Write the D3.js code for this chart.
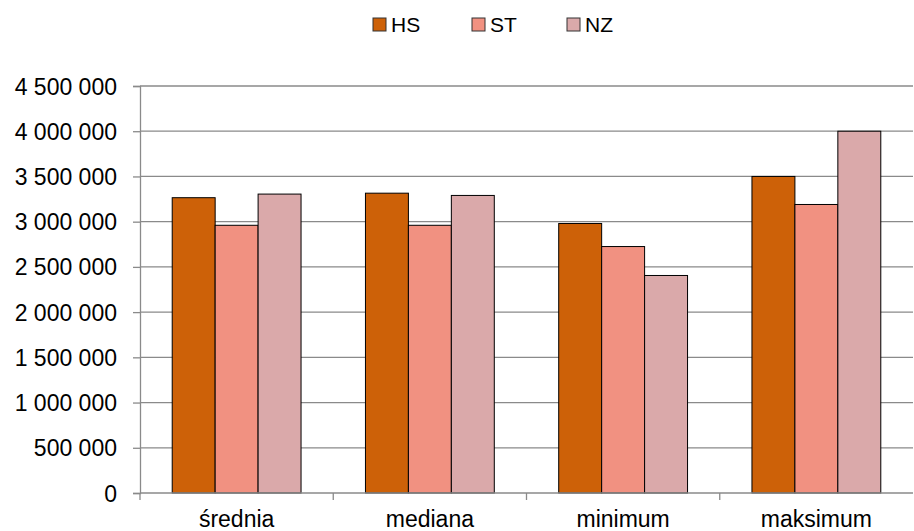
<!DOCTYPE html>
<html>
<meta charset="utf-8">
<script src="https://d3js.org/d3.v7.js"></script>
<style>
    body { margin: 0; background: #fff; overflow: hidden; }
    svg { display: block; }
    text { font-family: "Liberation Sans", Arial, sans-serif; fill: #000; }
</style>
<body>
    <div id="chart"></div>
    <script>

        // data
        var categories = ["średnia", "mediana", "minimum", "maksimum"];
        var seriesNames = ["HS", "ST", "NZ"];
        var hsValues = [3265000, 3315000, 2980000, 3500000];
        var stValues = [2960000, 2960000, 2725000, 3190000];
        var nzValues = [3305000, 3290000, 2405000, 4000000];
        var yTicks = [0, 500000, 1000000, 1500000, 2000000, 2500000, 3000000, 3500000, 4000000, 4500000];
        var colors = ["#cd6108", "#f19181", "#daa9aa"];

        var allValues = [hsValues, stValues, nzValues];

        var totalWidth = 914, totalHeight = 531;
        var margin = { top: 86, right: 1, bottom: 38, left: 140 },
            width = totalWidth - margin.left - margin.right,
            height = totalHeight - margin.top - margin.bottom;

        var svg = d3.select("#chart")
            .append("svg")
            .attr("width", totalWidth)
            .attr("height", totalHeight);

        var g = svg.append("g")
            .attr("transform", "translate(" + margin.left + "," + margin.top + ")");

        // scales
        var x0 = d3.scaleBand()
            .domain(categories)
            .range([0, width])
            .padding(0);

        var x1 = d3.scaleBand()
            .domain(seriesNames)
            .range([0, x0.bandwidth()])
            .paddingInner(0)
            .paddingOuter(0.75);

        var y = d3.scaleLinear()
            .domain([0, 4500000])
            .range([height, 0]);

        var locale = d3.formatLocale({ decimal: ",", thousands: " ", grouping: [3], currency: ["", ""] });
        var fmt = locale.format(",");

        // gridlines
        g.append("g")
            .selectAll("line")
            .data(yTicks.slice(1))
            .enter()
            .append("line")
            .attr("x1", 0)
            .attr("x2", width)
            .attr("y1", function (d) { return y(d) })
            .attr("y2", function (d) { return y(d) })
            .attr("stroke", "#8a8a8a")
            .attr("stroke-width", 1.3);

        // y axis
        var yAxis = g.append("g")
            .call(d3.axisLeft(y).tickValues(yTicks).tickFormat(fmt).tickSize(7).tickPadding(15));
        yAxis.select(".domain").attr("stroke", "#8a8a8a").attr("stroke-width", 1.3);
        yAxis.selectAll(".tick line").attr("stroke", "#8a8a8a").attr("stroke-width", 1.3);
        yAxis.selectAll("text")
            .style("font-family", "'Liberation Sans', Arial, sans-serif")
            .style("font-size", "23px")
            .attr("x", -23)
            .attr("dy", "0.35em");

        // bars
        var rows = categories.map(function (c, i) {
            return seriesNames.map(function (s, j) {
                return { category: c, series: s, value: allValues[j][i], color: colors[j] };
            });
        });

        g.append("g")
            .selectAll("g")
            .data(rows)
            .enter()
            .append("g")
            .attr("transform", function (d) { return "translate(" + x0(d[0].category) + ",0)" })
            .selectAll("rect")
            .data(function (d) { return d })
            .enter()
            .append("rect")
            .attr("x", function (d) { return x1(d.series) })
            .attr("y", function (d) { return y(d.value) })
            .attr("width", x1.bandwidth())
            .attr("height", function (d) { return height - y(d.value) })
            .attr("fill", function (d) { return d.color })
            .attr("stroke", "#000")
            .attr("stroke-width", 1);

        // x axis
        var xAxis = g.append("g")
            .attr("transform", "translate(0," + height + ")");
        xAxis.append("line")
            .attr("x1", 0).attr("x2", width)
            .attr("stroke", "#8a8a8a").attr("stroke-width", 1.3);
        xAxis.selectAll(".sep")
            .data(categories)
            .enter()
            .append("line")
            .attr("class", "sep")
            .attr("x1", function (d) { return x0(d) })
            .attr("x2", function (d) { return x0(d) })
            .attr("y1", 0)
            .attr("y2", 7)
            .attr("stroke", "#8a8a8a").attr("stroke-width", 1.3);
        xAxis.selectAll(".lbl")
            .data(categories)
            .enter()
            .append("text")
            .attr("class", "lbl")
            .attr("x", function (d) { return x0(d) + x0.bandwidth() / 2 })
            .attr("y", 34)
            .attr("text-anchor", "middle")
            .style("font-size", "23px")
            .text(function (d) { return d });

        // legend
        var legendX = [373, 472, 567];
        var legend = svg.append("g")
            .selectAll("g")
            .data(seriesNames)
            .enter()
            .append("g")
            .attr("transform", function (d, i) { return "translate(" + legendX[i] + ",18)" });
        legend.append("rect")
            .attr("width", 13)
            .attr("height", 13)
            .attr("fill", function (d, i) { return colors[i] })
            .attr("stroke", "#333")
            .attr("stroke-width", 1);
        legend.append("text")
            .attr("x", 18)
            .attr("y", 14)
            .style("font-size", "21px")
            .text(function (d) { return d });

    </script>
</body>
</html>
